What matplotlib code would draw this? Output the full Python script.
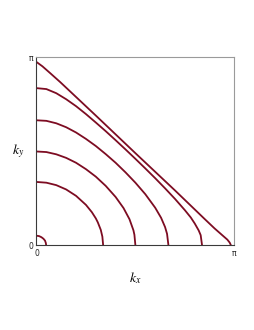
import numpy as np
import matplotlib
matplotlib.use('Agg')
import matplotlib.pyplot as plt

plt.rcParams['mathtext.fontset'] = 'stix'

######## contour lines, in units of pi
# small arc near the origin
c1x = [0.0, 0.013, 0.025, 0.035, 0.043, 0.047, 0.049]
c1y = [0.051, 0.049, 0.043, 0.035, 0.025, 0.013, 0.0]

c2x = [0.0, 0.05, 0.10, 0.15, 0.20, 0.25, 0.28, 0.30, 0.31, 0.325, 0.333, 0.337]
c2y = [0.337, 0.333, 0.320, 0.297, 0.263, 0.215, 0.176, 0.143, 0.122, 0.082, 0.046, 0.0]

c3x = [0.0, 0.05, 0.10, 0.15, 0.20, 0.25, 0.30, 0.35, 0.40, 0.44, 0.47, 0.49, 0.495, 0.50]
c3y = [0.499, 0.496, 0.484, 0.465, 0.439, 0.405, 0.365, 0.316, 0.257, 0.198, 0.139, 0.080, 0.056, 0.0]

c4x = [0.0, 0.05, 0.10, 0.15, 0.20, 0.25, 0.30, 0.35, 0.40, 0.45, 0.50, 0.55, 0.60, 0.63, 0.65, 0.66, 0.667]
c4y = [0.665, 0.662, 0.649, 0.628, 0.600, 0.566, 0.528, 0.485, 0.439, 0.388, 0.333, 0.272, 0.200, 0.146, 0.097, 0.061, 0.0]

c5x = [0.0, 0.05, 0.10, 0.15, 0.20, 0.25, 0.30, 0.35, 0.40, 0.45, 0.50, 0.55, 0.60, 0.65, 0.70, 0.75, 0.78, 0.80, 0.82, 0.83, 0.837]
c5y = [0.836, 0.831, 0.809, 0.777, 0.740, 0.698, 0.653, 0.607, 0.559, 0.510, 0.460, 0.409, 0.357, 0.303, 0.247, 0.187, 0.148, 0.116, 0.079, 0.054, 0.0]

# the (almost) straight one
c6x = [0.0, 0.03, 0.07, 0.12, 0.30, 0.50, 0.70, 0.85, 0.90, 0.94, 0.965, 0.977, 0.983]
c6y = [0.975, 0.952, 0.915, 0.868, 0.690, 0.490, 0.292, 0.140, 0.090, 0.053, 0.030, 0.014, 0.0]

curves = [(c1x, c1y), (c2x, c2y), (c3x, c3y), (c4x, c4y), (c5x, c5y), (c6x, c6y)]

lineColor = '#7d0c22'
lineW = 1.3

fig = plt.figure(figsize=(2.55, 3.3), dpi=100)
ax = fig.add_axes([36.5/255, 84.7/330, 197.8/255, 188/330])

for cx, cy in curves:
    ax.plot(np.array(cx)*np.pi, np.array(cy)*np.pi, '-', color=lineColor, linewidth=lineW,
            solid_capstyle='butt', solid_joinstyle='round')

ax.set_xlim(0, np.pi)
ax.set_ylim(0, np.pi)

ax.set_xticks([0, np.pi])
ax.set_xticklabels(['0', 'π'])
ax.set_yticks([0, np.pi])
ax.set_yticklabels(['0', 'π'])
ax.tick_params(length=0, labelsize=5.5, pad=2.5, colors='#222222')

ax.spines['left'].set_color('#3a3a3a')
ax.spines['bottom'].set_color('#3a3a3a')
ax.spines['top'].set_color('#9a9a9a')
ax.spines['right'].set_color('#9a9a9a')
for s in ax.spines.values():
    s.set_linewidth(0.8)

ax.set_xlabel('$k_x$', fontsize=10)
ax.xaxis.set_label_coords(0.5, -0.13)
ax.set_ylabel('$k_y$', fontsize=10, rotation=0, va='center', ha='center')
ax.yaxis.set_label_coords(-0.094, 0.5)

fig.savefig('out.png', dpi=100)
